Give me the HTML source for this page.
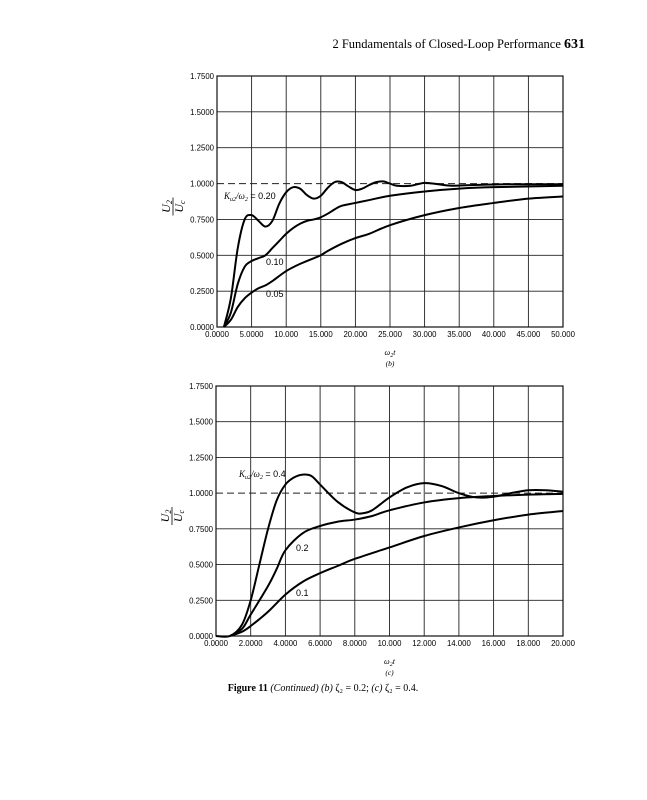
<!DOCTYPE html>
<html><head><meta charset="utf-8"><style>
body{margin:0;background:#fff;}
svg{display:block}
</style></head><body>
<svg id="s" width="647" height="800" xmlns="http://www.w3.org/2000/svg" font-family="Liberation Sans, sans-serif">
<rect width="647" height="800" fill="#fff"/>
<text x="585" y="48" text-anchor="end" font-family="Liberation Serif, serif" font-size="12.5">2  Fundamentals of Closed-Loop Performance   <tspan font-weight="bold" font-size="14">631</tspan></text>
<text x="323" y="691" text-anchor="middle" font-family="Liberation Serif, serif" font-size="10"><tspan font-weight="bold">Figure 11</tspan>   <tspan font-style="italic">(Continued) (b)</tspan> ζ₂ = 0.2; <tspan font-style="italic">(c)</tspan> ζ₂ = 0.4.</text>
<g id="g"></g>
</svg>
<script>
var g=document.getElementById('g');var h='';
function plot(L,T,R,B,xmax,xlabs,curves,labels,sub){
 var W=R-L,H=B-T;
 function X(x){return L+x/xmax*W} function Y(y){return B-y/1.75*H}
 for(var i=0;i<=10;i++){var x=L+W*i/10;h+='<line x1="'+x+'" y1="'+T+'" x2="'+x+'" y2="'+B+'" stroke="#222" stroke-width="0.9"/>';
  h+='<text x="'+x+'" y="'+(B+10)+'" text-anchor="middle" font-size="7.8">'+xlabs[i]+'</text>';}
 var yl=['0.0000','0.2500','0.5000','0.7500','1.0000','1.2500','1.5000','1.7500'];
 for(var j=0;j<=7;j++){var y=B-H*j/7;if(j!=4)h+='<line x1="'+L+'" y1="'+y+'" x2="'+R+'" y2="'+y+'" stroke="#222" stroke-width="0.9"/>';
  h+='<text x="'+(L-3)+'" y="'+(y+3)+'" text-anchor="end" font-size="7.8">'+yl[j]+'</text>';}
 h+='<line x1="'+L+'" y1="'+Y(1)+'" x2="'+R+'" y2="'+Y(1)+'" stroke="#222" stroke-width="1" stroke-dasharray="7,4"/>';
 h+='<rect x="'+L+'" y="'+T+'" width="'+W+'" height="'+H+'" fill="none" stroke="#111" stroke-width="1.2"/>';
 curves.forEach(function(p){var d='M'+X(p[0][0])+','+Y(p[0][1]);
  for(var i=0;i<p.length-1;i++){var p0=p[i-1]||p[i],p1=p[i],p2=p[i+1],p3=p[i+2]||p2;
   var c1x=X(p1[0])+(X(p2[0])-X(p0[0]))/6,c1y=Y(p1[1])+(Y(p2[1])-Y(p0[1]))/6,c2x=X(p2[0])-(X(p3[0])-X(p1[0]))/6,c2y=Y(p2[1])-(Y(p3[1])-Y(p1[1]))/6;
   d+=' C'+c1x+','+c1y+' '+c2x+','+c2y+' '+X(p2[0])+','+Y(p2[1]);}
  h+='<path d="'+d+'" fill="none" stroke="#000" stroke-width="2"/>';});
 labels.forEach(function(l){h+='<text x="'+l[0]+'" y="'+l[1]+'" font-size="9" fill="#000">'+l[2]+'</text>';});
 var cy=(T+B)/2+5;
 h+='<g transform="translate('+(L-45)+','+cy+') rotate(-90)"><text x="0" y="-2" text-anchor="middle" font-family="Liberation Serif,serif" font-style="italic" font-size="12">U<tspan font-size="8" dy="2">2</tspan></text><line x1="-9" y1="1" x2="9" y2="1" stroke="#000" stroke-width="0.8"/><text x="0" y="11" text-anchor="middle" font-family="Liberation Serif,serif" font-style="italic" font-size="12">U<tspan font-size="8" dy="2">c</tspan></text></g>';
 h+='<text x="'+((L+R)/2)+'" y="'+(B+28)+'" text-anchor="middle" font-family="Liberation Serif,serif" font-style="italic" font-size="8">ω<tspan font-size="6" dy="2">2</tspan><tspan dy="-2">t</tspan></text>';
 h+='<text x="'+((L+R)/2)+'" y="'+(B+39)+'" text-anchor="middle" font-family="Liberation Serif,serif" font-style="italic" font-size="7.5">('+sub+')</text>';
}
plot(217,76,563,327,50,['0.0000','5.0000','10.000','15.000','20.000','25.000','30.000','35.000','40.000','45.000','50.000'],[
[[1,0],[2,0.2],[3,0.55],[4,0.75],[5,0.78],[6,0.74],[7,0.70],[8,0.74],[9,0.86],[10,0.94],[11,0.975],[12,0.965],[13,0.92],[14,0.895],[15,0.915],[16,0.97],[17,1.01],[18,1.01],[19,0.98],[20,0.955],[21,0.965],[22,0.99],[23,1.01],[24,1.015],[25,1.0],[26,0.985],[28,0.985],[30,1.005],[32,0.995],[34,0.985],[37,0.99],[42,0.995],[50,0.995]],
[[1,0],[2,0.1],[3,0.3],[4,0.42],[5,0.46],[6,0.48],[7,0.5],[8,0.55],[9,0.6],[10,0.65],[11,0.69],[12,0.72],[13,0.74],[14,0.75],[15,0.765],[16,0.79],[17,0.82],[18,0.845],[20,0.865],[22,0.885],[25,0.915],[30,0.945],[35,0.965],[40,0.975],[50,0.985]],
[[1,0],[2,0.05],[3,0.14],[4,0.2],[5,0.24],[6,0.27],[7,0.29],[8,0.32],[10,0.39],[12,0.44],[14,0.48],[15,0.5],[16,0.53],[18,0.58],[20,0.62],[22,0.65],[25,0.71],[30,0.78],[35,0.83],[40,0.865],[45,0.895],[50,0.91]]
],[[224,199,'<tspan font-style="italic" font-family="Liberation Serif,serif">K<tspan font-size="6" dy="2">u2</tspan><tspan dy="-2">/ω</tspan><tspan font-size="6" dy="2">2</tspan></tspan><tspan dy="-2"> = 0.20</tspan>'],[266,265,'0.10'],[266,297,'0.05']],'b');
plot(216,386,563,636,20,['0.0000','2.0000','4.0000','6.0000','8.0000','10.000','12.000','14.000','16.000','18.000','20.000'],[
[[0,0],[0.8,0],[1.5,0.08],[2,0.25],[2.5,0.5],[3,0.75],[3.5,0.95],[4,1.06],[4.5,1.11],[5,1.13],[5.5,1.12],[6,1.06],[7,0.94],[8,0.865],[8.5,0.86],[9,0.88],[10,0.97],[11,1.04],[12,1.07],[13,1.05],[14,1.0],[15,0.97],[16,0.975],[17,1.0],[18,1.02],[19,1.02],[20,1.01]],
[[0.8,0],[1.5,0.05],[2,0.15],[3,0.35],[3.5,0.47],[4,0.6],[5,0.72],[6,0.77],[7,0.8],[8,0.815],[9,0.84],[10,0.88],[12,0.935],[14,0.965],[16,0.98],[18,0.99],[20,0.995]],
[[0.8,0],[1.5,0.03],[2,0.07],[3,0.17],[4,0.29],[5,0.38],[6,0.44],[7,0.49],[8,0.54],[10,0.62],[12,0.70],[14,0.76],[16,0.81],[18,0.85],[20,0.875]]
],[[239,477,'<tspan font-style="italic" font-family="Liberation Serif,serif">K<tspan font-size="6" dy="2">u2</tspan><tspan dy="-2">/ω</tspan><tspan font-size="6" dy="2">2</tspan></tspan><tspan dy="-2"> = 0.4</tspan>'],[296,551,'0.2'],[296,596,'0.1']],'c');
g.innerHTML=h;
</script>
</body></html>
